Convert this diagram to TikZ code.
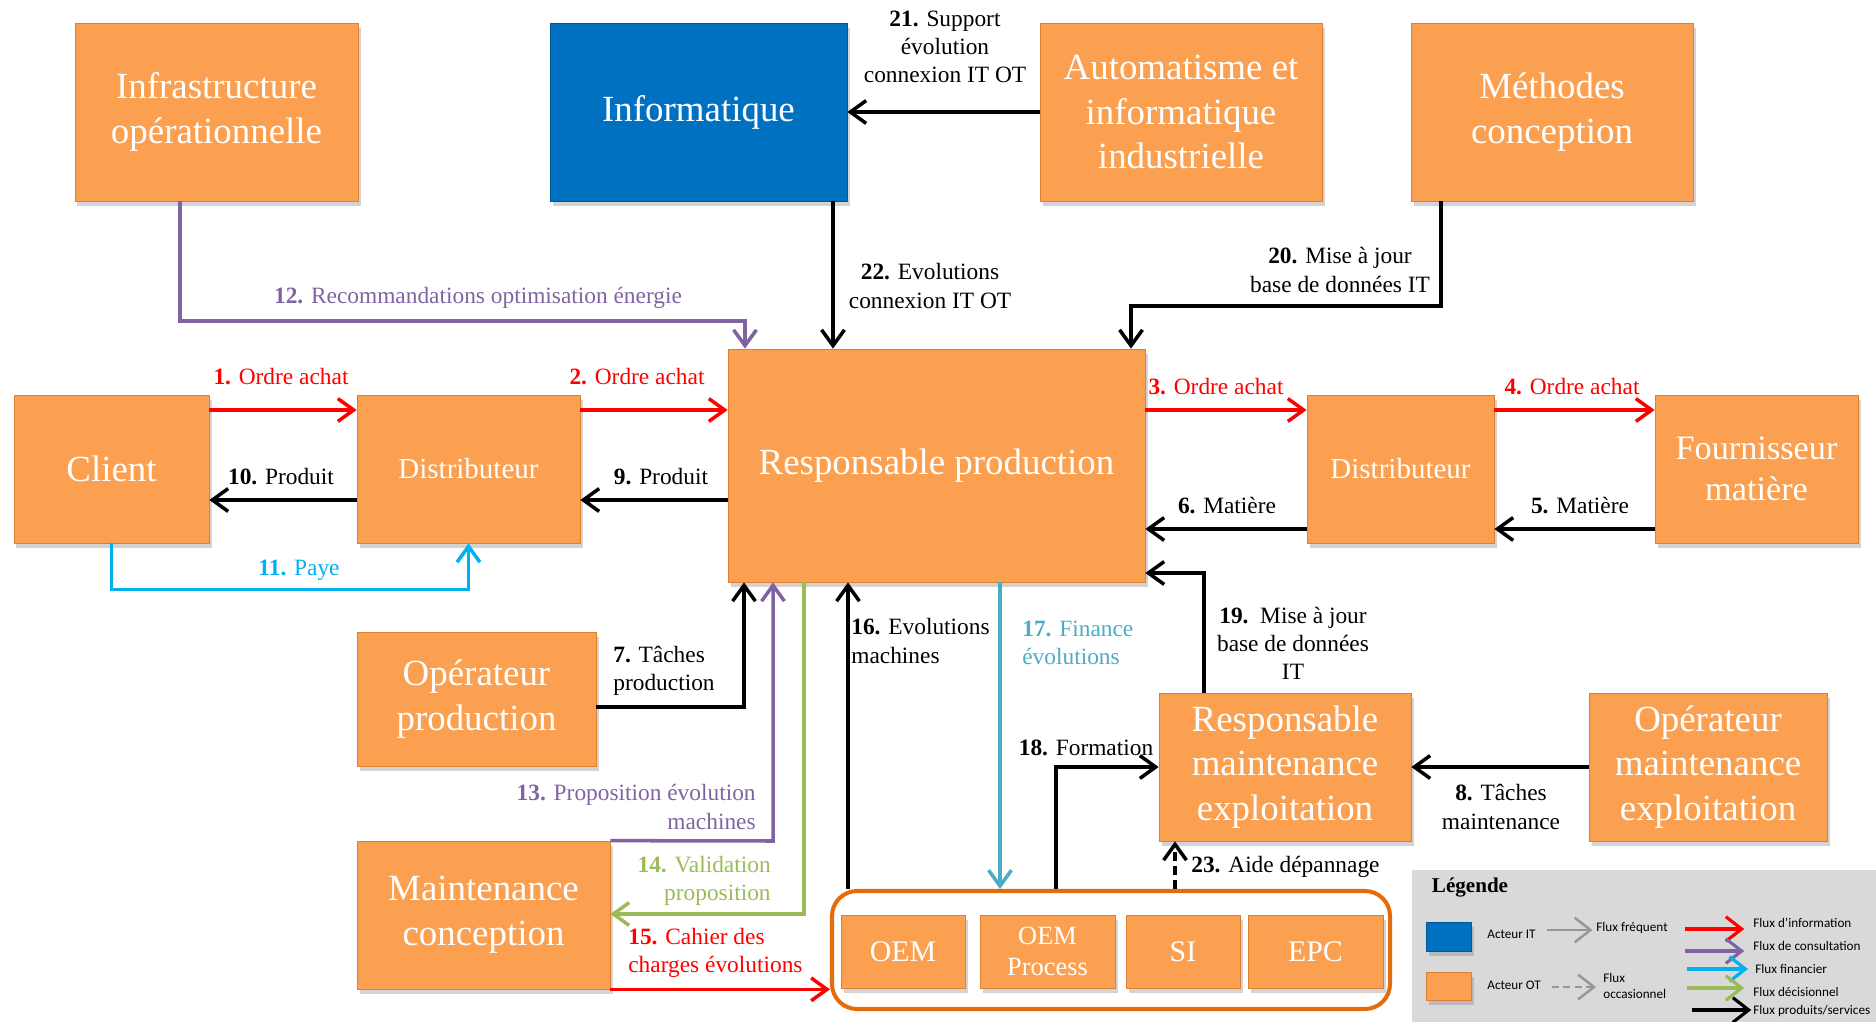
\documentclass[tikz,border=0pt]{standalone}
\usepackage{fontspec}
\setmainfont{Liberation Serif}
\newfontfamily\legfont{Carlito}
\usetikzlibrary{arrows.meta, shadows}
\definecolor{orangeOT}{RGB}{250,160,80}
\definecolor{orangeEdge}{RGB}{222,128,48}
\definecolor{blueIT}{RGB}{0,112,192}
\definecolor{blueEdge}{RGB}{0,88,156}
\definecolor{groupline}{RGB}{228,108,10}
\definecolor{consult}{RGB}{128,100,162}
\definecolor{financier}{RGB}{0,176,240}
\definecolor{decision}{RGB}{155,187,89}
\definecolor{finance}{RGB}{75,172,198}
\definecolor{legendbg}{RGB}{217,217,217}
\definecolor{legendgray}{RGB}{150,150,150}
\newcommand\boxfont{\fontsize{21}{25.5}\selectfont}
\newcommand\labfont{\fontsize{13.3}{16}\selectfont}

\begin{document}
\begin{tikzpicture}[x=0.2mm, y=-0.2mm,
    acteur/.style={draw=orangeEdge, fill=orangeOT, text=white, align=center,
      font=\boxfont, inner sep=2pt,
      drop shadow={shadow xshift=0.5mm, shadow yshift=-1mm, opacity=0.35}},
    acteurIT/.style={acteur, draw=blueEdge, fill=blueIT},
    lab/.style={font=\labfont, inner sep=0pt, align=center},
    flux/.style={line width=2pt, -{Straight Barb[length=9pt, width=13pt]}},
    legarrow/.style={line width=1.8pt, -{Straight Barb[length=9pt, width=14pt]}}]
  \useasboundingbox (0,0) rectangle (1876,1022);
  % Top row
  \node[acteur, minimum width=56.6mm, minimum height=35.6mm] (infra) at (216.5,112) {Infrastructure\\opérationnelle};
  \node[acteurIT, minimum width=59.4mm, minimum height=35.6mm] (info) at (698.5,112) {Informatique};
  \node[acteur, minimum width=56.4mm, minimum height=35.6mm] (autom) at (1181,112) {Automatisme et\\informatique\\industrielle};
  \node[acteur, minimum width=56.4mm, minimum height=35.6mm] (meth) at (1552,112) {Méthodes\\conception};
  % Middle row
  \node[acteur, minimum width=39mm, minimum height=29.6mm] (client) at (111.5,469) {Client};
  \node[acteur, minimum width=44.6mm, minimum height=29.6mm, font=\fontsize{16.5}{20}\selectfont] (distL) at (468.5,469) {Distributeur};
  \node[acteur, minimum width=83.4mm, minimum height=46.6mm] (rp) at (936.5,465.5) {Responsable production};
  \node[acteur, minimum width=37.4mm, minimum height=29.6mm, font=\fontsize{16.5}{20}\selectfont] (distR) at (1400.5,469) {Distributeur};
  \node[acteur, minimum width=40.6mm, minimum height=29.6mm, font=\fontsize{19.5}{23.5}\selectfont] (fourn) at (1756.5,469) {Fournisseur\\matière};
  % Bottom rows
  \node[acteur, minimum width=47.8mm, minimum height=26.8mm] (opprod) at (476.5,699) {Opérateur\\production};
  \node[acteur, minimum width=50.6mm, minimum height=29.6mm] (mconc) at (483.5,915) {Maintenance\\conception};
  \node[acteur, minimum width=50.4mm, minimum height=29.6mm] (rme) at (1285,767) {Responsable\\maintenance\\exploitation};
  \node[acteur, minimum width=47.6mm, minimum height=29.6mm] (ome) at (1708,767) {Opérateur\\maintenance\\exploitation};
  % Suppliers group
  \node[draw=groupline, line width=2.3pt, rounded corners=5mm, minimum width=111.6mm, minimum height=23.6mm] (grp) at (1111,950) {};
  \node[acteur, minimum width=24.8mm, minimum height=14.6mm, font=\fontsize{17}{20}\selectfont] (oem) at (903,951.5) {OEM};
  \node[acteur, minimum width=27mm, minimum height=14.6mm, font=\fontsize{15}{18}\selectfont] (oemp) at (1047.5,951.5) {OEM\\Process};
  \node[acteur, minimum width=22.8mm, minimum height=14.6mm, font=\fontsize{17}{20}\selectfont] (si) at (1183,951.5) {SI};
  \node[acteur, minimum width=27mm, minimum height=14.6mm, font=\fontsize{17}{20}\selectfont] (epc) at (1315.5,951.5) {EPC};

  % Bend points and rows of the flows
  \coordinate (y1) at (0,410);
  \coordinate (y2) at (0,500);
  \coordinate (y3) at (0,529);
  \coordinate (k12a) at (180,321);
  \coordinate (k12b) at (745,321);
  \coordinate (k22) at (833,0);
  \coordinate (k20a) at (1441,306);
  \coordinate (k20b) at (1131,306);
  \coordinate (k7) at (744,707);
  \coordinate (k13) at (773,841);
  \coordinate (k14) at (804,914);
  \coordinate (k16) at (848,0);
  \coordinate (k17) at (1000,0);
  \coordinate (k18) at (1056,767);
  \coordinate (k23) at (1175,0);
  \coordinate (k19) at (1204,573);

  % Purchase orders
  \draw[flux, red] (client.east |- y1) -- (distL.west |- y1);
  \draw[flux, red] (distL.east |- y1) -- (rp.west |- y1);
  \draw[flux, red] (rp.east |- y1) -- (distR.west |- y1);
  \draw[flux, red] (distR.east |- y1) -- (fourn.west |- y1);
  \node[lab, red] (l1) at (281,377) {\textbf{1.} Ordre achat};
  \node[lab, red] (l2) at (637,377) {\textbf{2.} Ordre achat};
  \node[lab, red] (l3) at (1216,387) {\textbf{3.} Ordre achat};
  \node[lab, red] (l4) at (1572,387) {\textbf{4.} Ordre achat};
  % Products and material
  \draw[flux] (distL.west |- y2) -- (client.east |- y2);
  \draw[flux] (rp.west |- y2) -- (distL.east |- y2);
  \draw[flux] (fourn.west |- y3) -- (distR.east |- y3);
  \draw[flux] (distR.west |- y3) -- (rp.east |- y3);
  \node[lab] (l10) at (281,477) {\textbf{10.} Produit};
  \node[lab] (l9) at (661,477) {\textbf{9.} Produit};
  \node[lab] (l6) at (1227,506) {\textbf{6.} Matière};
  \node[lab] (l5) at (1580,506) {\textbf{5.} Matière};
  % Payment
  \draw[flux, financier] (client.south) -- ++(0,46) -| (distL.south);
  \node[lab, financier] (l11) at (299,570) {\textbf{11.} Paye};
  % Energy recommendations
  \draw[flux, consult] (infra.south -| k12a) -- (k12a) -- (k12b) -- (rp.north -| k12b);
  \node[lab, consult] (l12) at (478,298) {\textbf{12.} Recommandations optimisation énergie};
  % IT / OT
  \draw[flux] (autom.west) -- (info.east);
  \node[lab] (l21) at (945,47) {\textbf{21.} Support\\évolution\\connexion IT OT};
  \draw[flux] (info.south -| k22) -- (rp.north -| k22);
  \node[lab] (l22) at (930,286) {\textbf{22.} Evolutions\\connexion IT OT};
  \draw[flux] (meth.south -| k20a) -- (k20a) -- (k20b) -- (rp.north -| k20b);
  \node[lab] (l20) at (1340,270) {\textbf{20.} Mise à jour\\base de données IT};
  % Production tasks
  \draw[flux] (opprod.east |- k7) -- (k7) -- (rp.south -| k7);
  \node[lab, anchor=west, align=left] (l7) at (613,671) {\textbf{7.} Tâches\\production};
  % Machine evolutions
  \draw[flux, consult] (mconc.north east) -- (k13) -- (rp.south -| k13);
  \node[lab, consult, anchor=east, align=right] (l13) at (756,807) {\textbf{13.} Proposition évolution\\machines};
  \draw[flux, decision] (rp.south -| k14) -- (k14) -- (mconc.east |- k14);
  \node[lab, decision, anchor=east, align=right] (l14) at (771,881) {\textbf{14.} Validation\\proposition};
  \draw[flux, red] (mconc.south east) -- (mconc.south east -| grp.west);
  \node[lab, red, anchor=west, align=left] (l15) at (628,953) {\textbf{15.} Cahier des\\charges évolutions};
  \draw[flux] (grp.north -| k16) -- (rp.south -| k16);
  \node[lab, anchor=west, align=left] (l16) at (851,641) {\textbf{16.} Evolutions\\machines};
  \draw[flux, finance] (rp.south -| k17) -- (grp.north -| k17);
  \node[lab, finance, anchor=west, align=left] (l17) at (1022,643) {\textbf{17.} Finance\\évolutions};
  % Maintenance
  \draw[flux] (grp.north -| k18) -- (k18) -- (rme.west);
  \node[lab] (l18) at (1086,748) {\textbf{18.} Formation};
  \draw[flux, dash pattern=on 5pt off 3pt] (grp.north -| k23) -- (rme.south -| k23);
  \node[lab, anchor=west] (l23) at (1191,867) {\textbf{23.} Aide dépannage};
  \draw[flux] (rme.north -| k19) -- (k19) -- (rp.east |- k19);
  \node[lab] (l19) at (1293,643) {\textbf{19.}\ \ Mise à jour\\base de données\\IT};
  \draw[flux] (ome.west) -- (rme.east);
  \node[lab] (l8) at (1501,807) {\textbf{8.} Tâches\\maintenance};

  % Legend
  \fill[legendbg] (1412,870) rectangle (1876,1022);
  \node[font=\fontsize{12}{14}\selectfont\bfseries, inner sep=0pt] (legtitle) at (1470,887) {Légende};
  \node[acteurIT, minimum width=9mm, minimum height=5.8mm] (swIT) at (1448.5,936.5) {};
  \node[acteur, minimum width=9mm, minimum height=5.6mm] (swOT) at (1448.5,986) {};
  \begin{scope}[every node/.style={font=\legfont\fontsize{7.5}{9}\selectfont, inner sep=0pt, anchor=west, align=left}]
    \node (tIT) at (1487,934) {Acteur IT};
    \node (tOT) at (1487,985) {Acteur OT};
    \node (tfreq) at (1596,928) {Flux fréquent};
    \node (tocc) at (1603,986) {Flux\\occasionnel};
    \node (tinfo) at (1753,923) {Flux d’information};
    \node (tcons) at (1753,946) {Flux de consultation};
    \node (tfin) at (1755,969) {Flux financier};
    \node (tdec) at (1753,992) {Flux décisionnel};
    \node (tprod) at (1753,1011) {Flux produits/services};
  \end{scope}
  \coordinate (gfreq) at (1547,930);
  \coordinate (gocc) at (1552,987);
  \coordinate (ginfo) at (1685,929);
  \coordinate (gcons) at (1685,951);
  \coordinate (gfin) at (1687,969);
  \coordinate (gdec) at (1687,988);
  \coordinate (gprod) at (1692,1010);
  \draw[legarrow, legendgray, line width=1.4pt] (gfreq) -- ([xshift=-2pt]tfreq.west |- gfreq);
  \draw[legarrow, legendgray, line width=1.4pt, dash pattern=on 4pt off 2.5pt] (gocc) -- ([xshift=-4pt]tocc.west |- gocc);
  \draw[legarrow, red] (ginfo) -- ([xshift=-5pt]tinfo.west |- ginfo);
  \draw[legarrow, consult] (gcons) -- ([xshift=-5pt]tcons.west |- gcons);
  \draw[legarrow, financier] (gfin) -- ([xshift=-4pt]tfin.west |- gfin);
  \draw[legarrow, decision] (gdec) -- ([xshift=-5pt]tdec.west |- gdec);
  \draw[legarrow] (gprod) -- ([xshift=-1pt]tprod.west |- gprod);
\end{tikzpicture}
\end{document}
